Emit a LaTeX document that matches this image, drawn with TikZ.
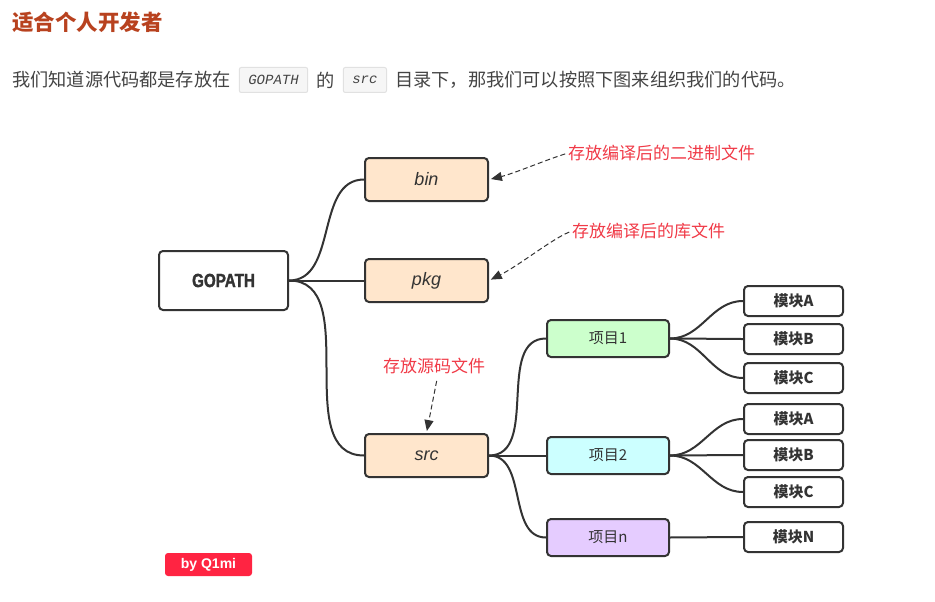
\documentclass[tikz,border=0pt]{standalone}
\usepackage{fontspec}
\setmainfont{Liberation Sans}
\setmonofont{Liberation Mono}
\newfontfamily\cjk{Noto Sans CJK SC}
\newfontfamily\gofont[FakeStretch=0.8, BoldFeatures={FakeBold=1.6}]{Liberation Sans}
\usetikzlibrary{positioning, arrows.meta}

\definecolor{edgegray}{HTML}{333333}
\definecolor{bodygray}{HTML}{444444}
\definecolor{dirfill}{HTML}{FFE6CC}
\definecolor{projafill}{HTML}{CCFFCC}
\definecolor{projbfill}{HTML}{CCFFFF}
\definecolor{projnfill}{HTML}{E5CCFF}
\definecolor{notered}{HTML}{F03A47}
\definecolor{titlered}{HTML}{B8421F}
\definecolor{codebg}{HTML}{F6F6F6}
\definecolor{codeborder}{HTML}{E1E1E1}
\definecolor{badgered}{HTML}{FF2442}

\begin{document}
\begin{tikzpicture}[x=1pt, y=-1pt,
    box/.style={draw=edgegray, line width=2pt, rounded corners=4pt, inner sep=0pt, text=edgegray},
    dirbox/.style={box, fill=dirfill, minimum width=123pt, minimum height=43pt, font=\fontsize{18}{20}\selectfont\itshape},
    projbox/.style={box, minimum width=122pt, minimum height=37pt, font=\cjk\fontsize{15}{17}\selectfont},
    modbox/.style={box, fill=white, minimum width=99pt, minimum height=30pt, font=\cjk\bfseries\fontsize{15}{17}\selectfont},
    link/.style={draw=edgegray, line width=2pt},
    note/.style={text=notered, inner sep=0pt, font=\cjk\fontsize{17}{19}\selectfont},
    noteline/.style={draw=edgegray, line width=1pt, dash pattern=on 5pt off 3pt, -{Triangle[length=11pt,width=9pt]}},
    body/.style={inner sep=0pt, text=bodygray, font=\cjk\fontsize{18.2}{21}\selectfont},
    code/.style={draw=codeborder, fill=codebg, line width=1pt, rounded corners=2pt, minimum height=25pt,
      inner xsep=9pt, inner ysep=0pt, text=bodygray, font=\ttfamily\itshape\fontsize{14}{16}\selectfont}]
  \useasboundingbox (0,0) rectangle (935,602);

  % heading and intro line
  \node[anchor=west, inner sep=0pt, text=titlered, font=\cjk\bfseries\fontsize{21.5}{24}\selectfont] (title) at (12,22) {适合个人开发者};
  \node[body, anchor=west] (introa) at (12,80) {我们知道源代码都是存放在};
  \node[code, right=8pt of introa] (codea) {GOPATH};
  \node[body, right=8pt of codea] (introb) {的};
  \node[code, right=8pt of introb] (codeb) {src};
  \node[body, right=8pt of codeb] (introc) {目录下，那我们可以按照下图来组织我们的代码。};

  % tree
  \node[box, fill=white, minimum width=129pt, minimum height=59pt, font=\gofont\bfseries\fontsize{19}{22}\selectfont] (gopath) at (223.5,280.5) {GOPATH};
  \node[dirbox] (bin) at (426.5,179.5) {bin};
  \node[dirbox] (pkg) at (426.5,280.5) {pkg};
  \node[dirbox] (src) at (426.5,455.5) {src};

  \node[projbox, fill=projafill] (proja) at (608,338.5) {项目1};
  \node[projbox, fill=projbfill] (projb) at (608,455.5) {项目2};
  \node[projbox, fill=projnfill] (projn) at (608,537.5) {项目n};

  \node[modbox] (moda1) at (793.5,301) {模块A};
  \node[modbox] (modb1) at (793.5,339) {模块B};
  \node[modbox] (modc1) at (793.5,378) {模块C};
  \node[modbox] (moda2) at (793.5,419) {模块A};
  \node[modbox] (modb2) at (793.5,455) {模块B};
  \node[modbox] (modc2) at (793.5,492) {模块C};
  \node[modbox] (modn) at (793.5,537) {模块N};

  \foreach \d in {bin, pkg, src}
    \draw[link] (gopath.east) to[out=0, in=180] (\d.west);
  \foreach \p in {proja, projb, projn}
    \draw[link] (src.east) to[out=0, in=180] (\p.west);
  \foreach \m in {moda1, modb1, modc1}
    \draw[link] (proja.east) to[out=0, in=180] (\m.west);
  \foreach \m in {moda2, modb2, modc2}
    \draw[link] (projb.east) to[out=0, in=180] (\m.west);
  \draw[link] (projn.east) -- (modn.west);

  % notes
  \node[note, anchor=west] (binnote) at (568,153) {存放编译后的二进制文件};
  \node[note, anchor=west] (pkgnote) at (572,231) {存放编译后的库文件};
  \node[note] (srcnote) at (434,366) {存放源码文件};
  \draw[noteline, shorten <=3pt, shorten >=2pt] (binnote.west) .. controls +(-25,8) and +(25,-6) .. (bin.east);
  \draw[noteline, shorten <=3pt, shorten >=2pt] (pkgnote.west) .. controls +(-20,8) and +(30,-15) .. (pkg.east);
  \draw[noteline, shorten <=7pt, shorten >=2pt] ([xshift=4pt]srcnote.south) -- (src.north);

  \node[fill=badgered, rounded corners=3pt, inner sep=0pt, minimum width=87pt, minimum height=23pt,
    text=white, font=\bfseries\fontsize{14}{16}\selectfont] (badge) at (208.5,564.5) {by Q1mi};
\end{tikzpicture}
\end{document}
